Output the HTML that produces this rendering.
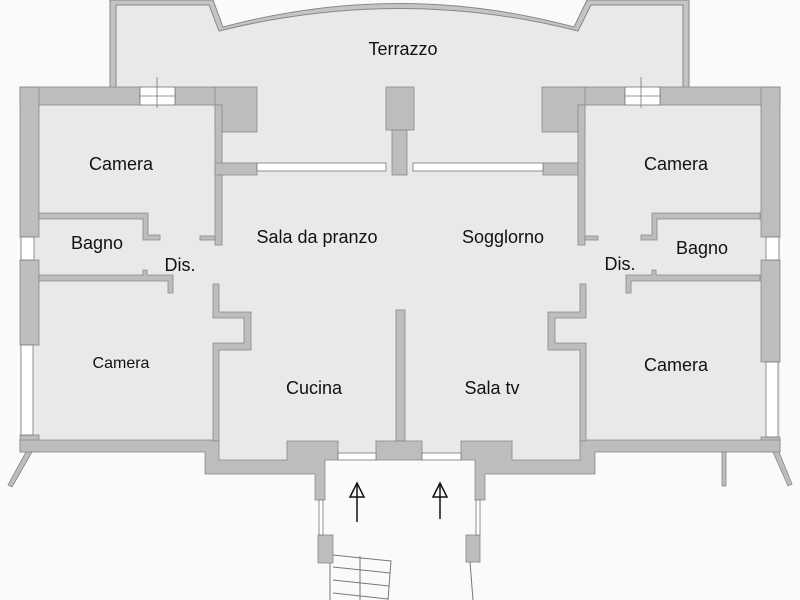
<!DOCTYPE html>
<html><head><meta charset="utf-8"><style>
html,body{margin:0;padding:0;background:#fafafa;}
svg{display:block;}
text{font-family:"Liberation Sans",sans-serif;fill:#111;}
</style></head><body>
<svg width="800" height="600" viewBox="0 0 800 600" xmlns="http://www.w3.org/2000/svg">
<rect width="800" height="600" fill="#fafafa"/>
<!-- terrace -->
<path d="M110,0 L213,0 L223,27 Q400,-20 574,27 L587,0 L689,0 L689,90 L110,90 Z" fill="#c4c4c4" stroke="#888" stroke-width="1"/>
<path d="M116,5 L209,5 L219,31 Q400,-14 578,31 L591,5 L683,5 L683,90 L116,90 Z" fill="#e9e9e9" stroke="#888" stroke-width="1"/>
<!-- main floor -->
<rect x="20" y="87" width="760" height="365" fill="#e9e9e9"/>
<rect x="205" y="450" width="390" height="10" fill="#e9e9e9"/>
<g fill="#bdbdbd" stroke="#888" stroke-width="0.8">
<!-- left wing -->
<rect x="20" y="87" width="120" height="18"/>
<rect x="175" y="87" width="40" height="18"/>
<rect x="215" y="87" width="42" height="45"/>
<rect x="20" y="87" width="19" height="150"/>
<rect x="20" y="260" width="19" height="85"/>
<rect x="20" y="435" width="19" height="17"/>
<rect x="215" y="105" width="7" height="140"/>
<rect x="215" y="163" width="42" height="12"/>
<rect x="200" y="236" width="15" height="4"/>
<path d="M39,213 L148,213 L148,235 L160,235 L160,240 L143,240 L143,219 L39,219 Z"/>
<path d="M39,275 L143,275 L143,270 L147,270 L147,275 L173,275 L173,293 L168,293 L168,281 L39,281 Z"/>
<path d="M213,284 L219,284 L219,312 L251,312 L251,350 L219,350 L219,441 L213,441 L213,343 L244,343 L244,318 L213,318 Z"/>
<path d="M20,440 L213,440 L213,441 L219,441 L219,460 L287,460 L287,441 L338,441 L338,460 L325,460 L325,500 L315,500 L315,474 L205,474 L205,452 L20,452 Z"/>
<!-- center -->
<rect x="386" y="87" width="28" height="43"/>
<rect x="392" y="130" width="15" height="45"/>
<rect x="396" y="310" width="9" height="131"/>
<rect x="376" y="441" width="46" height="19"/>
<!-- right wing -->
<rect x="578" y="87" width="47" height="18"/>
<rect x="660" y="87" width="120" height="18"/>
<rect x="542" y="87" width="43" height="45"/>
<rect x="543" y="163" width="42" height="12"/>
<rect x="578" y="105" width="7" height="140"/>
<rect x="585" y="236" width="13" height="4"/>
<rect x="761" y="87" width="19" height="150"/>
<rect x="761" y="260" width="19" height="102"/>
<rect x="761" y="437" width="19" height="15"/>
<path d="M760,213 L652,213 L652,235 L641,235 L641,240 L657,240 L657,219 L760,219 Z"/>
<path d="M760,275 L656,275 L656,270 L652,270 L652,275 L626,275 L626,293 L631,293 L631,281 L760,281 Z"/>
<path d="M586,284 L580,284 L580,312 L548,312 L548,350 L580,350 L580,441 L586,441 L586,343 L555,343 L555,318 L586,318 Z"/>
<path d="M780,440 L586,440 L586,441 L580,441 L580,460 L512,460 L512,441 L461,441 L461,460 L475,460 L475,500 L485,500 L485,474 L595,474 L595,452 L780,452 Z"/>
<!-- entrance -->
<rect x="318" y="535" width="15" height="28"/>
<rect x="466" y="535" width="14" height="27"/>
<path d="M26,452 L32,452 L12,487 L8,485 Z"/>
<path d="M773,452 L779,452 L792,484 L788,486 Z"/>
<rect x="722" y="452" width="4" height="34"/>
</g>
<!-- windows -->
<g fill="#fff" stroke="#777" stroke-width="0.8">
<rect x="140" y="87" width="35" height="18"/><line x1="140" y1="96" x2="175" y2="96"/><line x1="157" y1="77" x2="157" y2="108"/>
<rect x="625" y="87" width="35" height="18"/><line x1="625" y1="96" x2="660" y2="96"/><line x1="641" y1="77" x2="641" y2="108"/>
<rect x="257" y="163" width="129" height="8"/><rect x="413" y="163" width="130" height="8"/>
<rect x="21" y="237" width="13" height="23"/><rect x="766" y="237" width="13" height="23"/>
<rect x="21" y="345" width="12" height="90"/><rect x="766" y="362" width="12" height="75"/>
<rect x="338" y="453" width="38" height="7"/><rect x="422" y="453" width="39" height="7"/>
<rect x="319" y="500" width="4" height="35"/><rect x="476" y="500" width="4" height="35"/>
</g>
<g fill="none" stroke="#777" stroke-width="1">
<line x1="330" y1="563" x2="330" y2="600"/>
<path d="M470,562 L473,600"/>
<path d="M333,555 L391,561 L388,600 M333,567 L390,573 M333,580 L389,586 M333,593 L388,599 M360,556 L360,600"/>
</g>
<!-- arrows -->
<g stroke="#111" stroke-width="1.5" fill="none">
<line x1="357" y1="522" x2="357" y2="484"/><path d="M350,497 L357,483 L364,497 Z"/>
<line x1="440" y1="519" x2="440" y2="484"/><path d="M433,497 L440,483 L447,497 Z"/>
</g>
<g font-size="18" text-anchor="middle">
<text x="403" y="55">Terrazzo</text>
<text x="121" y="170">Camera</text>
<text x="97" y="249">Bagno</text>
<text x="180" y="271">Dis.</text>
<text x="317" y="243">Sala da pranzo</text>
<text x="503" y="243">Sogglorno</text>
<text x="620" y="270">Dis.</text>
<text x="702" y="254">Bagno</text>
<text x="676" y="170">Camera</text>
<text x="121" y="368" font-size="16">Camera</text>
<text x="314" y="394">Cucina</text>
<text x="492" y="394">Sala tv</text>
<text x="676" y="371">Camera</text>
</g>
</svg>
</body></html>
